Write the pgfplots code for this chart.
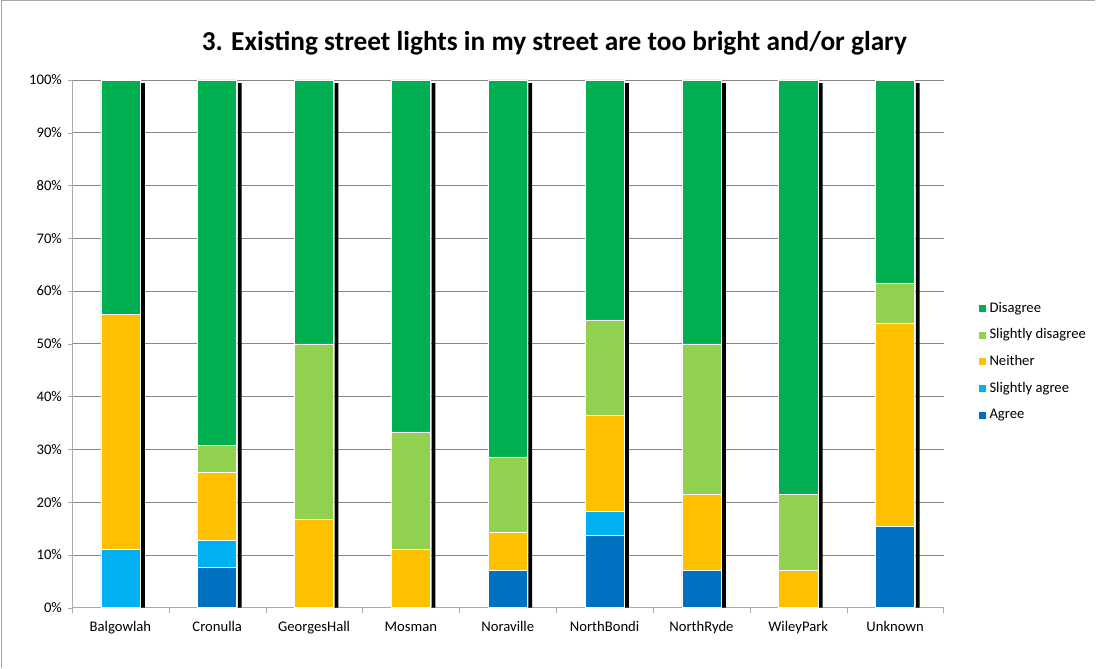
\documentclass[border=0pt]{standalone}
\usepackage{pgfplots}
\pgfplotsset{compat=1.18}
\usepackage{pgfplotstable}
\usepackage{fontspec}
\setmainfont{Carlito}

\definecolor{cDis}{HTML}{00B050}
\definecolor{cSDis}{HTML}{92D050}
\definecolor{cNei}{HTML}{FFC000}
\definecolor{cSAg}{HTML}{00B0F0}
\definecolor{cAg}{HTML}{0070C0}
\definecolor{gridgray}{HTML}{868686}

% x: 0 Balgowlah ... 8 Unknown, values in percent
\pgfplotstableread{
x  agree  sagree neither sdis   dis    total
0  0      11.11  44.44   0      44.44  99.4
1  7.69   5.13   12.82   5.13   69.23  99.4
2  0      0      16.67   33.33  50.00  99.4
3  0      0      11.11   22.22  66.67  99.4
4  7.14   0      7.14    14.29  71.43  99.4
5  13.64  4.55   18.18   18.18  45.45  99.4
6  7.14   0      14.29   28.57  50.00  99.4
7  0      0      7.14    14.29  78.57  99.4
8  15.38  0      38.46   7.69   38.46  99.4
}\survey

\pgfplotsset{
  base/.style={
    at={(54pt,45pt)}, anchor=south west,
    scale only axis, width=654pt, height=396pt,
    xmin=-0.5, xmax=8.5, ymin=0, ymax=100,
    clip=false,
  },
}

\begin{document}
\begin{tikzpicture}
% frame and bounding box
\path (0,0) rectangle (822pt,501pt);
\draw[gray!70, line width=0.8pt] (0.8pt,0) -- (0.8pt,500.4pt) -- (822pt,500.4pt);

% background axis: grid, ticks, shadow bars
\begin{axis}[base,
  axis x line*=bottom, axis y line*=left,
  axis line style={gridgray!70},
  ytick={0,10,...,100},
  yticklabel={\pgfmathprintnumber{\tick}\%},
  /pgf/number format/assume math mode=true,
  ymajorgrids, grid style={gridgray, line width=0.6pt},
  xtick={0,...,8},
  xticklabels={Balgowlah,Cronulla,GeorgesHall,Mosman,Noraville,NorthBondi,NorthRyde,WileyPark,Unknown},
  major x tick style={draw=none},
  minor xtick={-0.5,0.5,...,8.5},
  minor x tick style={gridgray!70},
  tick align=outside,
  major tick length=3pt, minor tick length=4pt,
  y tick style={gridgray!70},
  ticklabel style={font=\fontsize{11}{13}\selectfont, text=black},
  xticklabel style={yshift=-4pt},
  yticklabel style={xshift=-1pt},
  ybar, bar width=2.8pt, bar shift=16.9pt,
]
\addplot[fill=black, draw=none] table[x=x, y=total] {\survey};
\end{axis}

% stacked bars
\begin{axis}[base,
  axis lines=none,
  ybar stacked, bar width=29.3pt,
  reverse legend,
  legend style={at={(1.035,0.59)}, anchor=north west, draw=none, fill=none,
    font=\fontsize{11}{13}\selectfont, row sep=7pt,
    /tikz/every odd column/.style={inner sep=0pt}},
  legend cell align=left,
  legend image code/.code={\fill[#1] (0pt,-3pt) rectangle (6pt,3pt);},
]
\addplot[fill=cAg, draw=white, line width=0.4pt] table[x=x, y=agree] {\survey};
\addlegendentry{Agree}
\addplot[fill=cSAg, draw=white, line width=0.4pt] table[x=x, y=sagree] {\survey};
\addlegendentry{Slightly agree}
\addplot[fill=cNei, draw=white, line width=0.4pt] table[x=x, y=neither] {\survey};
\addlegendentry{Neither}
\addplot[fill=cSDis, draw=white, line width=0.4pt] table[x=x, y=sdis] {\survey};
\addlegendentry{Slightly disagree}
\addplot[fill=cDis, draw=white, line width=0.4pt] table[x=x, y=dis] {\survey};
\addlegendentry{Disagree}
\end{axis}

\node[font=\fontsize{20.5}{24}\selectfont\bfseries] at (416pt,468.5pt)
  {3. Existing street lights in my street are too bright and/or glary};
\end{tikzpicture}
\end{document}
